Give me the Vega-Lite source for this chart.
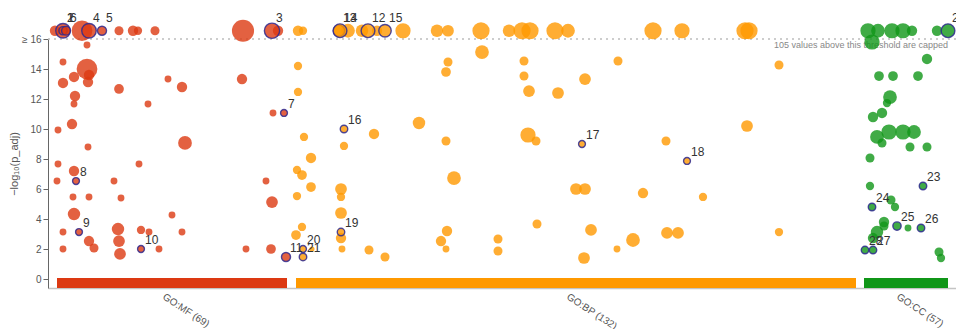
{
  "$schema": "https://vega.github.io/schema/vega-lite/v6.json",
  "width": 908,
  "height": 249,
  "autosize": {"type": "none"},
  "padding": {"left": 48, "top": 39, "right": 0, "bottom": 41},
  "config": {
    "view": {"stroke": null},
    "font": "Liberation Sans"
  },
  "datasets": {
    "terms": [
      {"source": "GO:MF", "pos": 7, "neglog_p": 16.55, "term_size": 250},
      {"source": "GO:MF", "pos": 15, "neglog_p": 16.55, "term_size": 490, "label": 1},
      {"source": "GO:MF", "pos": 15, "neglog_p": 16.55, "term_size": 160, "label": 2},
      {"source": "GO:MF", "pos": 18, "neglog_p": 16.55, "term_size": 180, "label": 6},
      {"source": "GO:MF", "pos": 34, "neglog_p": 16.55, "term_size": 1000},
      {"source": "GO:MF", "pos": 41, "neglog_p": 16.55, "term_size": 490, "label": 4},
      {"source": "GO:MF", "pos": 54, "neglog_p": 16.55, "term_size": 190, "label": 5},
      {"source": "GO:MF", "pos": 71, "neglog_p": 16.55, "term_size": 190},
      {"source": "GO:MF", "pos": 85, "neglog_p": 16.55, "term_size": 250},
      {"source": "GO:MF", "pos": 90, "neglog_p": 16.55, "term_size": 160},
      {"source": "GO:MF", "pos": 107, "neglog_p": 16.55, "term_size": 190},
      {"source": "GO:MF", "pos": 195, "neglog_p": 16.55, "term_size": 1140},
      {"source": "GO:MF", "pos": 230, "neglog_p": 16.55, "term_size": 250},
      {"source": "GO:MF", "pos": 224, "neglog_p": 16.55, "term_size": 540, "label": 3},
      {"source": "GO:MF", "pos": 39, "neglog_p": 15.6, "term_size": 110},
      {"source": "GO:MF", "pos": 15, "neglog_p": 14.47, "term_size": 110},
      {"source": "GO:MF", "pos": 39, "neglog_p": 14.0, "term_size": 1000},
      {"source": "GO:MF", "pos": 41, "neglog_p": 13.6, "term_size": 250},
      {"source": "GO:MF", "pos": 40, "neglog_p": 13.13, "term_size": 250},
      {"source": "GO:MF", "pos": 15, "neglog_p": 13.07, "term_size": 250},
      {"source": "GO:MF", "pos": 26, "neglog_p": 13.47, "term_size": 250},
      {"source": "GO:MF", "pos": 27, "neglog_p": 12.2, "term_size": 250},
      {"source": "GO:MF", "pos": 26, "neglog_p": 11.67, "term_size": 110},
      {"source": "GO:MF", "pos": 24, "neglog_p": 10.33, "term_size": 250},
      {"source": "GO:MF", "pos": 10, "neglog_p": 9.93, "term_size": 110},
      {"source": "GO:MF", "pos": 40, "neglog_p": 8.8, "term_size": 110},
      {"source": "GO:MF", "pos": 71, "neglog_p": 12.67, "term_size": 220},
      {"source": "GO:MF", "pos": 100, "neglog_p": 11.67, "term_size": 110},
      {"source": "GO:MF", "pos": 120, "neglog_p": 13.33, "term_size": 110},
      {"source": "GO:MF", "pos": 134, "neglog_p": 12.8, "term_size": 250},
      {"source": "GO:MF", "pos": 137, "neglog_p": 9.07, "term_size": 440},
      {"source": "GO:MF", "pos": 194, "neglog_p": 13.33, "term_size": 250},
      {"source": "GO:MF", "pos": 225, "neglog_p": 11.07, "term_size": 110},
      {"source": "GO:MF", "pos": 236, "neglog_p": 11.07, "term_size": 110, "label": 7},
      {"source": "GO:MF", "pos": 10, "neglog_p": 7.67, "term_size": 110},
      {"source": "GO:MF", "pos": 26, "neglog_p": 7.2, "term_size": 250},
      {"source": "GO:MF", "pos": 28, "neglog_p": 6.53, "term_size": 110, "label": 8},
      {"source": "GO:MF", "pos": 9, "neglog_p": 6.53, "term_size": 110},
      {"source": "GO:MF", "pos": 25, "neglog_p": 5.47, "term_size": 110},
      {"source": "GO:MF", "pos": 41, "neglog_p": 5.47, "term_size": 110},
      {"source": "GO:MF", "pos": 26, "neglog_p": 4.33, "term_size": 360},
      {"source": "GO:MF", "pos": 15, "neglog_p": 3.13, "term_size": 110},
      {"source": "GO:MF", "pos": 31, "neglog_p": 3.13, "term_size": 110, "label": 9},
      {"source": "GO:MF", "pos": 15, "neglog_p": 2.0, "term_size": 110},
      {"source": "GO:MF", "pos": 41, "neglog_p": 2.53, "term_size": 250},
      {"source": "GO:MF", "pos": 46, "neglog_p": 2.07, "term_size": 190},
      {"source": "GO:MF", "pos": 66, "neglog_p": 6.53, "term_size": 110},
      {"source": "GO:MF", "pos": 73, "neglog_p": 5.4, "term_size": 110},
      {"source": "GO:MF", "pos": 91, "neglog_p": 7.67, "term_size": 110},
      {"source": "GO:MF", "pos": 70, "neglog_p": 3.33, "term_size": 360},
      {"source": "GO:MF", "pos": 71, "neglog_p": 2.53, "term_size": 320},
      {"source": "GO:MF", "pos": 72, "neglog_p": 1.67, "term_size": 320},
      {"source": "GO:MF", "pos": 93, "neglog_p": 2.0, "term_size": 110, "label": 10},
      {"source": "GO:MF", "pos": 93, "neglog_p": 3.27, "term_size": 160},
      {"source": "GO:MF", "pos": 101, "neglog_p": 3.13, "term_size": 110},
      {"source": "GO:MF", "pos": 111, "neglog_p": 2.0, "term_size": 110},
      {"source": "GO:MF", "pos": 124, "neglog_p": 4.27, "term_size": 110},
      {"source": "GO:MF", "pos": 134, "neglog_p": 3.13, "term_size": 110},
      {"source": "GO:MF", "pos": 198, "neglog_p": 2.0, "term_size": 110},
      {"source": "GO:MF", "pos": 218, "neglog_p": 6.53, "term_size": 110},
      {"source": "GO:MF", "pos": 224, "neglog_p": 5.13, "term_size": 320},
      {"source": "GO:MF", "pos": 223, "neglog_p": 2.0, "term_size": 220},
      {"source": "GO:MF", "pos": 238, "neglog_p": 1.47, "term_size": 190, "label": 11},

      {"source": "GO:BP", "pos": 250, "neglog_p": 16.55, "term_size": 250},
      {"source": "GO:BP", "pos": 255, "neglog_p": 16.55, "term_size": 160},
      {"source": "GO:BP", "pos": 300, "neglog_p": 16.55, "term_size": 440},
      {"source": "GO:BP", "pos": 314, "neglog_p": 16.55, "term_size": 360},
      {"source": "GO:BP", "pos": 329, "neglog_p": 16.55, "term_size": 250},
      {"source": "GO:BP", "pos": 355, "neglog_p": 16.55, "term_size": 540},
      {"source": "GO:BP", "pos": 389, "neglog_p": 16.55, "term_size": 360},
      {"source": "GO:BP", "pos": 400, "neglog_p": 16.55, "term_size": 320},
      {"source": "GO:BP", "pos": 433, "neglog_p": 16.55, "term_size": 690},
      {"source": "GO:BP", "pos": 461, "neglog_p": 16.55, "term_size": 360},
      {"source": "GO:BP", "pos": 474, "neglog_p": 16.55, "term_size": 690},
      {"source": "GO:BP", "pos": 482, "neglog_p": 16.55, "term_size": 690},
      {"source": "GO:BP", "pos": 507, "neglog_p": 16.55, "term_size": 690},
      {"source": "GO:BP", "pos": 520, "neglog_p": 16.55, "term_size": 440},
      {"source": "GO:BP", "pos": 605, "neglog_p": 16.55, "term_size": 690},
      {"source": "GO:BP", "pos": 634, "neglog_p": 16.55, "term_size": 540},
      {"source": "GO:BP", "pos": 697, "neglog_p": 16.55, "term_size": 690},
      {"source": "GO:BP", "pos": 701, "neglog_p": 16.55, "term_size": 690},
      {"source": "GO:BP", "pos": 291, "neglog_p": 16.55, "term_size": 300, "label": 13},
      {"source": "GO:BP", "pos": 292, "neglog_p": 16.55, "term_size": 440, "label": 14},
      {"source": "GO:BP", "pos": 320, "neglog_p": 16.55, "term_size": 440, "label": 12},
      {"source": "GO:BP", "pos": 337, "neglog_p": 16.55, "term_size": 360, "label": 15},
      {"source": "GO:BP", "pos": 250, "neglog_p": 14.2, "term_size": 160},
      {"source": "GO:BP", "pos": 250, "neglog_p": 12.47, "term_size": 160},
      {"source": "GO:BP", "pos": 256, "neglog_p": 9.47, "term_size": 160},
      {"source": "GO:BP", "pos": 263, "neglog_p": 8.07, "term_size": 250},
      {"source": "GO:BP", "pos": 249, "neglog_p": 7.27, "term_size": 160},
      {"source": "GO:BP", "pos": 254, "neglog_p": 6.93, "term_size": 220},
      {"source": "GO:BP", "pos": 263, "neglog_p": 6.13, "term_size": 220},
      {"source": "GO:BP", "pos": 249, "neglog_p": 5.53, "term_size": 160},
      {"source": "GO:BP", "pos": 254, "neglog_p": 3.47, "term_size": 160},
      {"source": "GO:BP", "pos": 248, "neglog_p": 2.93, "term_size": 220},
      {"source": "GO:BP", "pos": 264, "neglog_p": 2.0, "term_size": 60},
      {"source": "GO:BP", "pos": 255, "neglog_p": 2.0, "term_size": 110, "label": 20},
      {"source": "GO:BP", "pos": 255, "neglog_p": 1.47, "term_size": 130, "label": 21},
      {"source": "GO:BP", "pos": 434, "neglog_p": 15.13, "term_size": 440},
      {"source": "GO:BP", "pos": 400, "neglog_p": 14.47, "term_size": 190},
      {"source": "GO:BP", "pos": 398, "neglog_p": 13.8, "term_size": 220},
      {"source": "GO:BP", "pos": 476, "neglog_p": 14.53, "term_size": 190},
      {"source": "GO:BP", "pos": 476, "neglog_p": 13.53, "term_size": 190},
      {"source": "GO:BP", "pos": 481, "neglog_p": 12.53, "term_size": 320},
      {"source": "GO:BP", "pos": 510, "neglog_p": 12.4, "term_size": 320},
      {"source": "GO:BP", "pos": 537, "neglog_p": 13.33, "term_size": 320},
      {"source": "GO:BP", "pos": 570, "neglog_p": 14.53, "term_size": 190},
      {"source": "GO:BP", "pos": 371, "neglog_p": 10.4, "term_size": 360},
      {"source": "GO:BP", "pos": 326, "neglog_p": 9.67, "term_size": 250},
      {"source": "GO:BP", "pos": 296, "neglog_p": 10.0, "term_size": 130, "label": 16},
      {"source": "GO:BP", "pos": 296, "neglog_p": 8.87, "term_size": 160},
      {"source": "GO:BP", "pos": 398, "neglog_p": 9.2, "term_size": 190},
      {"source": "GO:BP", "pos": 480, "neglog_p": 9.6, "term_size": 540},
      {"source": "GO:BP", "pos": 488, "neglog_p": 9.2, "term_size": 190},
      {"source": "GO:BP", "pos": 534, "neglog_p": 9.0, "term_size": 110, "label": 17},
      {"source": "GO:BP", "pos": 731, "neglog_p": 14.27, "term_size": 190},
      {"source": "GO:BP", "pos": 699, "neglog_p": 10.2, "term_size": 320},
      {"source": "GO:BP", "pos": 618, "neglog_p": 9.2, "term_size": 190},
      {"source": "GO:BP", "pos": 639, "neglog_p": 7.87, "term_size": 110, "label": 18},
      {"source": "GO:BP", "pos": 595, "neglog_p": 5.73, "term_size": 250},
      {"source": "GO:BP", "pos": 655, "neglog_p": 5.47, "term_size": 160},
      {"source": "GO:BP", "pos": 585, "neglog_p": 2.6, "term_size": 440},
      {"source": "GO:BP", "pos": 619, "neglog_p": 3.07, "term_size": 320},
      {"source": "GO:BP", "pos": 630, "neglog_p": 3.07, "term_size": 320},
      {"source": "GO:BP", "pos": 731, "neglog_p": 3.13, "term_size": 160},
      {"source": "GO:BP", "pos": 293, "neglog_p": 6.0, "term_size": 320},
      {"source": "GO:BP", "pos": 293, "neglog_p": 5.47, "term_size": 160},
      {"source": "GO:BP", "pos": 293, "neglog_p": 4.4, "term_size": 320},
      {"source": "GO:BP", "pos": 293, "neglog_p": 3.13, "term_size": 130, "label": 19},
      {"source": "GO:BP", "pos": 293, "neglog_p": 2.73, "term_size": 250},
      {"source": "GO:BP", "pos": 294, "neglog_p": 2.0, "term_size": 110},
      {"source": "GO:BP", "pos": 321, "neglog_p": 1.93, "term_size": 190},
      {"source": "GO:BP", "pos": 337, "neglog_p": 1.47, "term_size": 190},
      {"source": "GO:BP", "pos": 406, "neglog_p": 6.73, "term_size": 440},
      {"source": "GO:BP", "pos": 399, "neglog_p": 3.2, "term_size": 250},
      {"source": "GO:BP", "pos": 393, "neglog_p": 2.53, "term_size": 250},
      {"source": "GO:BP", "pos": 398, "neglog_p": 2.0, "term_size": 110},
      {"source": "GO:BP", "pos": 450, "neglog_p": 2.67, "term_size": 190},
      {"source": "GO:BP", "pos": 450, "neglog_p": 1.87, "term_size": 190},
      {"source": "GO:BP", "pos": 489, "neglog_p": 3.67, "term_size": 190},
      {"source": "GO:BP", "pos": 528, "neglog_p": 6.0, "term_size": 320},
      {"source": "GO:BP", "pos": 537, "neglog_p": 6.0, "term_size": 320},
      {"source": "GO:BP", "pos": 543, "neglog_p": 3.27, "term_size": 320},
      {"source": "GO:BP", "pos": 536, "neglog_p": 1.4, "term_size": 320},
      {"source": "GO:BP", "pos": 569, "neglog_p": 2.0, "term_size": 110},

      {"source": "GO:CC", "pos": 820, "neglog_p": 16.55, "term_size": 540},
      {"source": "GO:CC", "pos": 830, "neglog_p": 16.55, "term_size": 440},
      {"source": "GO:CC", "pos": 844, "neglog_p": 16.55, "term_size": 540},
      {"source": "GO:CC", "pos": 855, "neglog_p": 16.55, "term_size": 540},
      {"source": "GO:CC", "pos": 864, "neglog_p": 16.55, "term_size": 250},
      {"source": "GO:CC", "pos": 889, "neglog_p": 16.55, "term_size": 250},
      {"source": "GO:CC", "pos": 900, "neglog_p": 16.55, "term_size": 440, "label": 22},
      {"source": "GO:CC", "pos": 824, "neglog_p": 15.8, "term_size": 540},
      {"source": "GO:CC", "pos": 879, "neglog_p": 14.67, "term_size": 250},
      {"source": "GO:CC", "pos": 831, "neglog_p": 13.53, "term_size": 220},
      {"source": "GO:CC", "pos": 845, "neglog_p": 13.53, "term_size": 220},
      {"source": "GO:CC", "pos": 870, "neglog_p": 13.53, "term_size": 220},
      {"source": "GO:CC", "pos": 842, "neglog_p": 12.13, "term_size": 440},
      {"source": "GO:CC", "pos": 839, "neglog_p": 11.73, "term_size": 160},
      {"source": "GO:CC", "pos": 834, "neglog_p": 11.07, "term_size": 250},
      {"source": "GO:CC", "pos": 825, "neglog_p": 10.8, "term_size": 250},
      {"source": "GO:CC", "pos": 829, "neglog_p": 9.47, "term_size": 440},
      {"source": "GO:CC", "pos": 841, "neglog_p": 9.8, "term_size": 540},
      {"source": "GO:CC", "pos": 855, "neglog_p": 9.8, "term_size": 540},
      {"source": "GO:CC", "pos": 866, "neglog_p": 9.8, "term_size": 440},
      {"source": "GO:CC", "pos": 834, "neglog_p": 9.07, "term_size": 190},
      {"source": "GO:CC", "pos": 862, "neglog_p": 8.8, "term_size": 190},
      {"source": "GO:CC", "pos": 879, "neglog_p": 8.8, "term_size": 190},
      {"source": "GO:CC", "pos": 822, "neglog_p": 8.07, "term_size": 190},
      {"source": "GO:CC", "pos": 822, "neglog_p": 6.2, "term_size": 160},
      {"source": "GO:CC", "pos": 875, "neglog_p": 6.2, "term_size": 130, "label": 23},
      {"source": "GO:CC", "pos": 824, "neglog_p": 4.8, "term_size": 130, "label": 24},
      {"source": "GO:CC", "pos": 843, "neglog_p": 5.27, "term_size": 190},
      {"source": "GO:CC", "pos": 847, "neglog_p": 4.8, "term_size": 160},
      {"source": "GO:CC", "pos": 836, "neglog_p": 3.8, "term_size": 250},
      {"source": "GO:CC", "pos": 836, "neglog_p": 3.53, "term_size": 190},
      {"source": "GO:CC", "pos": 829, "neglog_p": 3.13, "term_size": 360},
      {"source": "GO:CC", "pos": 825, "neglog_p": 2.73, "term_size": 250},
      {"source": "GO:CC", "pos": 849, "neglog_p": 3.53, "term_size": 160, "label": 25},
      {"source": "GO:CC", "pos": 860, "neglog_p": 3.4, "term_size": 110},
      {"source": "GO:CC", "pos": 873, "neglog_p": 3.4, "term_size": 130, "label": 26},
      {"source": "GO:CC", "pos": 817, "neglog_p": 1.93, "term_size": 130, "label": 28},
      {"source": "GO:CC", "pos": 825, "neglog_p": 1.93, "term_size": 130, "label": 27},
      {"source": "GO:CC", "pos": 891, "neglog_p": 1.8, "term_size": 190},
      {"source": "GO:CC", "pos": 893, "neglog_p": 1.4, "term_size": 160}
    ]
  },
  "encoding": {
    "x": {
      "field": "pos", "type": "quantitative",
      "scale": {"domain": [0, 908], "nice": false, "zero": false},
      "axis": {"labels": false, "ticks": false, "grid": false, "title": null, "domainColor": "#c4c4c4", "domainWidth": 1.5}
    },
    "y": {
      "field": "neglog_p", "type": "quantitative",
      "scale": {"domain": [-0.6, 16], "nice": false, "zero": false},
      "axis": {
        "title": "−log₁₀(p_adj)",
        "titleFontSize": 11, "titleFontWeight": "normal", "titleColor": "#555",
        "titlePadding": 2,
        "values": [0, 2, 4, 6, 8, 10, 12, 14, 16],
        "labelOverlap": false,
        "labelExpr": "datum.value == 16 ? '≥ 16' : datum.label",
        "labelFontSize": 10, "labelColor": "#555",
        "tickSize": 5, "tickColor": "#666", "domainColor": "#666",
        "grid": false
      }
    }
  },
  "layer": [
    {
      "data": {"values": [{"pos": 0, "pos_end": 908, "neglog_p": 16}]},
      "mark": {"type": "rule", "strokeDash": [2, 4], "color": "#bdbdbd", "strokeWidth": 1.5},
      "encoding": {"x2": {"field": "pos_end"}}
    },
    {
      "data": {"values": [{"note": "105 values above this threshold are capped", "pos": 900, "neglog_p": 16}]},
      "mark": {"type": "text", "align": "right", "baseline": "middle", "dy": 6, "fontSize": 9, "color": "#888"},
      "encoding": {"text": {"field": "note", "type": "nominal"}}
    },
    {
      "data": {"name": "terms"},
      "transform": [{"filter": "datum.label == null"}],
      "mark": {"type": "circle", "opacity": 0.8},
      "encoding": {
        "color": {"field": "source", "type": "nominal", "scale": {"domain": ["GO:MF", "GO:BP", "GO:CC"], "range": ["#dc3912", "#ff9900", "#109618"]}, "legend": null},
        "size": {"field": "term_size", "type": "quantitative", "scale": {"type": "linear", "domain": [0, 1000], "range": [0, 430]}, "legend": null}
      }
    },
    {
      "data": {"values": [
        {"source": "GO:MF", "pos": 9, "pos_end": 239, "neglog_p": 0.07, "neglog_p_end": -0.6},
        {"source": "GO:BP", "pos": 248, "pos_end": 808, "neglog_p": 0.07, "neglog_p_end": -0.6},
        {"source": "GO:CC", "pos": 816, "pos_end": 900, "neglog_p": 0.07, "neglog_p_end": -0.6}
      ]},
      "mark": {"type": "rect"},
      "encoding": {
        "x2": {"field": "pos_end"},
        "y2": {"field": "neglog_p_end"},
        "color": {"field": "source", "type": "nominal", "legend": null}
      }
    },
    {
      "data": {"values": [
        {"name": "GO:MF (69)", "start": 9, "end": 239, "neglog_p": -1.5},
        {"name": "GO:BP (132)", "start": 248, "end": 808, "neglog_p": -1.5},
        {"name": "GO:CC (57)", "start": 816, "end": 900, "neglog_p": -1.5}
      ]},
      "transform": [{"calculate": "(datum.start + datum.end) / 2", "as": "pos"}],
      "mark": {"type": "text", "align": "left", "baseline": "middle", "angle": 33, "dx": -10, "fontSize": 10, "color": "#555"},
      "encoding": {"text": {"field": "name", "type": "nominal"}}
    },
    {
      "data": {"name": "terms"},
      "transform": [{"filter": "datum.label != null"}],
      "mark": {"type": "circle", "fillOpacity": 0.8, "stroke": "#2f2a8f", "strokeWidth": 1.4, "strokeOpacity": 0.85},
      "encoding": {
        "color": {"field": "source", "type": "nominal", "legend": null},
        "size": {"field": "term_size", "type": "quantitative", "legend": null}
      }
    },
    {
      "data": {"name": "terms"},
      "transform": [{"filter": "datum.label != null && datum.neglog_p <= 16"}],
      "mark": {"type": "text", "align": "left", "baseline": "middle", "dx": 4, "dy": -9, "fontSize": 12, "color": "#333"},
      "encoding": {"text": {"field": "label", "type": "nominal"}}
    },
    {
      "data": {"name": "terms"},
      "transform": [{"filter": "datum.label != null && datum.neglog_p > 16"}],
      "mark": {"type": "text", "align": "left", "baseline": "middle", "dx": 4, "dy": -13, "fontSize": 12, "color": "#333"},
      "encoding": {"text": {"field": "label", "type": "nominal"}}
    }
  ]
}
